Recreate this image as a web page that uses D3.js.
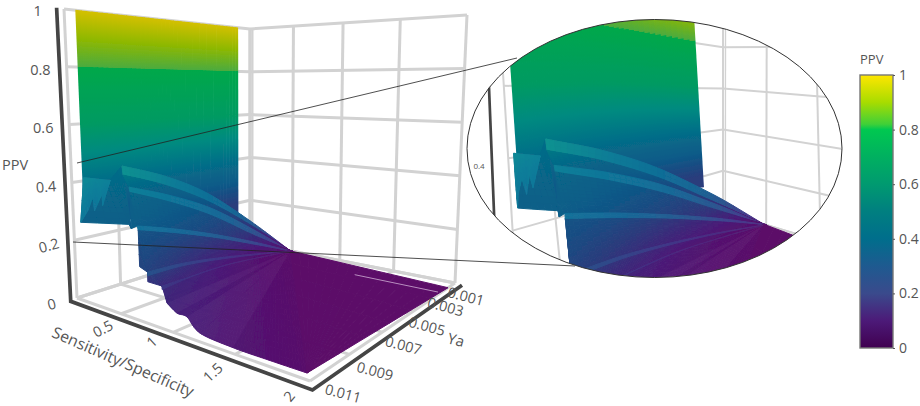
<!DOCTYPE html><html><head><meta charset="utf-8"><script src="https://cdn.jsdelivr.net/npm/d3@7"></script>
<style>html,body{margin:0;background:#fff}svg{display:block}text{font-family:"Open Sans",sans-serif;fill:#555}</style></head><body><svg id="c" width="920" height="406"></svg>
<script>
// ---- axis ticks ----
const sTicks=[0.5,1,1.5,2];
const yaTicks=[0.001,0.003,0.005,0.007,0.009,0.011];
const ppvTicks=[0,0.2,0.4,0.6,0.8,1];
// ---- surface: rows of [Sensitivity/Specificity, Ya, PPV], with the colour value read along each row ----
const sheetTop=[[0.02,0.01063,1],[0.02,0.0020,1]];
const sheetBottom=[[0.02,0.01063,0.26],[0.02,0.0020,0.15]];
const ridgeBTop=[[.189,.00952,.450],[.000,.00644,.369],[.004,.00402,.271],[.180,.00211,.133],[.479,.00100,.000]];
const ridgeBLow=[[.199,.00952,.418],[.010,.00658,.337],[.042,.00418,.240],[.247,.00245,.123],[.479,.00100,.000]];
const ridgeCTop=[[.192,.00924,.371],[.025,.00640,.295],[.054,.00407,.211],[.224,.00223,.102],[.479,.00100,.000]];
const ridgeCLow=[[.204,.00924,.353],[.033,.00641,.268],[.056,.00406,.179],[.217,.00219,.076],[.479,.00100,.000]];
const ridgeDTop=[[.222,.00903,.231],[.105,.00647,.167],[.125,.00420,.106],[.258,.00230,.048],[.479,.00100,.000]];
const ridgeDLow=[[.244,.00908,.220],[.124,.00653,.155],[.134,.00423,.095],[.263,.00231,.039],[.479,.00100,.000]];
const ridgeE=[[.417,.00943,.091],[.247,.00680,.051],[.236,.00453,.024],[.331,.00256,.007],[.505,.00100,.002]];
const ridgeF=[[.395,.00865,.022],[.297,.00642,.000],[.311,.00445,.000],[.393,.00266,.000],[.492,.00100,.000]];
const nearEdge=[[.887,.0107,.067],[.975,.0107,.046],[1.063,.0107,.044],[1.172,.0107,.009],[1.434,.0107,.000],[1.701,.0107,.000],[1.942,.0107,.001]];
const farEdge=[[.479,.00100,.000],[2,.0017,.000]];
const patchTop=[[.144,.01100,.423],[.055,.00956,.393]];
const patchJag=[[.000,.01070,.257],[.168,.01096,.313],[.162,.01072,.355],[.089,.01041,.298],[.179,.01039,.362],[.110,.01013,.314],[.055,.00956,.393]];
const blockBottom=[[.000,.01070,.257],[.144,.00907,.232],[.214,.00928,.225]];
const stepC=[.214,.00928,.225], stepD=[.245,.00906,.087], stepE=[.417,.00943,.058];
const shadeBTop=[.50,.42,.33,.24,.03], shadeBLow=[.44,.36,.29,.19,.03], shadeCTop=[.42,.36,.30,.20,.03], shadeCLow=[.37,.32,.26,.17,.03];
const shadeDTop=[.33,.29,.24,.15,.03], shadeDLow=[.28,.25,.19,.11,.03], shadeE=[.22,.17,.12,.07,.02], shadeF=[.14,.12,.08,.04,.01];
const shadeNear=[.13,.11,.10,.09,.06,.04,.02];
// ---- colour ramps ----
const barStops=[0,.1,.2,.3,.4,.5,.6,.7,.8,.82,.9,1];
const barColors=['#400050','#4c1a78','#3a4a8c','#1e5a90','#006e8c','#007f80','#009a70','#00b060','#00c850','#40d038','#a8dc00','#ffe600'];
const surfStops=[0,.1,.2,.3,.4,.5,.6,.8,.802,.9,1];
const surfColors=['#5c0a68','#481c78','#2a3c7c','#0b5a88','#056e88','#038a80','#009a62','#00a84a','#4cab3e','#8fb800','#d4c000'];

const sScale=d3.scaleLinear([0,2],[0,1]), yaScale=d3.scaleLinear([0.011,0.001],[0,1]), ppvScale=d3.scaleLinear([0,1],[0,1]);
const surfaceColor=d3.scaleLinear(surfStops,surfColors), barColor=d3.scaleLinear(barStops,barColors);
function homog(q){const [p0,p1,p2,p3]=q;const dx1=p1[0]-p2[0],dx2=p3[0]-p2[0],sx=p0[0]-p1[0]+p2[0]-p3[0],dy1=p1[1]-p2[1],dy2=p3[1]-p2[1],sy=p0[1]-p1[1]+p2[1]-p3[1];
const den=dx1*dy2-dx2*dy1,g=(sx*dy2-dx2*sy)/den,h=(dx1*sy-sx*dy1)/den,a=p1[0]-p0[0]+g*p1[0],b=p3[0]-p0[0]+h*p3[0],c=p0[0],d=p1[1]-p0[1]+g*p1[1],e=p3[1]-p0[1]+h*p3[1],f=p0[1];
return (u,v)=>{const w=g*u+h*v+1;return [(a*u+b*v+c)/w,(d*u+e*v+f)/w]}}
function view(fl,tp){const F=homog(fl),T=homog(tp);return (u,v,z)=>{const a=F(u,v),b=T(u,v);return [a[0]+(b[0]-a[0])*z,a[1]+(b[1]-a[1])*z]}}
const mainCam=view([[77,298],[310,381],[455,283],[250,243]],[[64,9],[320,-25],[467,15],[250,29]]);
const insetCam=view([[517,303],[662,478],[987,291],[723,212]],[[495,-59],[594,-82],[928,-15],[723,6]]);
const data3=(cam,p)=>cam(sScale(p[0]),yaScale(p[1]),ppvScale(p[2]));

const svg=d3.select('#c'), line=d3.line();
const ELL={cx:654.5,cy:148.5,rx:187.5,ry:129};
const defs=svg.append('defs');
defs.append('clipPath').attr('id','el').append('ellipse').attr('cx',ELL.cx).attr('cy',ELL.cy).attr('rx',ELL.rx).attr('ry',ELL.ry);
defs.append('filter').attr('id','soft').attr('x','-5%').attr('y','-5%').attr('width','110%').attr('height','110%').append('feGaussianBlur').attr('stdDeviation',.6);

function frame(g,P,w,darkV){
 const L=(pts,c,wd)=>g.append('path').attr('d',line(pts)).attr('fill','none').attr('stroke',c).attr('stroke-width',wd);
 const gc='#d2d2d2';
 [0,...sTicks].forEach(s=>{const u=sScale(s);L([P(u,1,0),P(u,1,1)],gc,w);L([P(u,0,0),P(u,1,0)],gc,w)});
 yaTicks.forEach(y=>{const v=yaScale(y);L([P(0,v,0),P(0,v,1)],gc,w);L([P(0,v,0),P(1,v,0)],gc,w)});
 ppvTicks.forEach(z=>{L([P(0,0,z),P(0,1,z)],gc,w);L([P(0,1,z),P(1,1,z)],gc,w)});
 L([P(.015,1,0),P(.015,1,1)],gc,w*.7);
 L([P(.012,darkV,1),P(.012,darkV,0),P(1.03,darkV,0),P(1.03,.99,0)],'#444',w+.7);
}
function sampler(pts,shade,smooth){
 const n=pts.length-1, rows=pts.map((p,i)=>[...p,shade?shade[i]:p[2]]);
 return t=>{const f=Math.min(t*n,n-1e-9),i=Math.floor(f),k=f-i;
  const p1=rows[i],p2=rows[i+1],p0=rows[Math.max(i-1,0)],p3=rows[Math.min(i+2,n)];
  return p1.map((_,d)=>smooth?(.5*(2*p1[d]+(p2[d]-p0[d])*k+(2*p0[d]-5*p1[d]+4*p2[d]-p3[d])*k*k+(3*p1[d]-p0[d]-3*p2[d]+p3[d])*k*k*k)):p1[d]+(p2[d]-p1[d])*k)}
}
function strip(g,P,a,b,o={}){
 const nu=o.nu||36,nv=o.nv||10;
 for(let i=0;i<nu;i++)for(let j=0;j<nv;j++){
  const cell=(ti,tj)=>{const A=a(ti),B=b(ti);return A.map((v,d)=>v+(B[d]-v)*tj)};
  const c=[cell(i/nu,j/nv),cell((i+1)/nu,j/nv),cell((i+1)/nu,(j+1)/nv),cell(i/nu,(j+1)/nv)];
  let col=surfaceColor(d3.mean(c,q=>q[3]));
  if(o.lit)col=d3.interpolateRgb(col,'#38b4dc')(o.lit);
  g.append('path').attr('d',line(c.map(q=>data3(P,q)))+'Z').attr('fill',col).attr('stroke',col).attr('stroke-width',1);
 }
}
let gid=0;
function sheet(g,P){
 const top=sampler(sheetTop),bot=sampler(sheetBottom),n=40;
 for(let i=0;i<n;i++){
  const e=Math.min(1,(i+1.2)/n),a=top(i/n),b=top(e),c=bot(e),d=bot(i/n);
  const mt=top((i+.5)/n),mb=bot((i+.5)/n),pt=data3(P,mt),pb=data3(P,mb),id='sh'+(gid++);
  const lg=defs.append('linearGradient').attr('id',id).attr('gradientUnits','userSpaceOnUse').attr('x1',pt[0]).attr('y1',pt[1]).attr('x2',pb[0]).attr('y2',pb[1]);
  surfStops.slice().reverse().forEach(s=>{const off=(mt[2]-s)/(mt[2]-mb[2]);if(off>=0&&off<=1)lg.append('stop').attr('offset',off).attr('stop-color',surfaceColor(s))});
  g.append('path').attr('d',line([a,b,c,d].map(p=>data3(P,p)))+'Z').attr('fill',`url(#${id})`);
 }
}
function drawSurface(g,P){
 const S=sampler;
 sheet(g,P);
 // block behind the left steps and its jagged lighter patch
 strip(g,P,S([patchTop[0],patchTop[1],ridgeBTop[0]],[.37,.38,.40]),S(blockBottom,[.33,.32,.31]),{nu:12,nv:8});
 strip(g,P,S(patchTop,[.46,.42]),S(patchJag,[.38,.36,.40,.34,.41,.36,.42]),{nu:24,nv:6,lit:.22});
 // bands of the fan, back to front
 strip(g,P,S(ridgeBTop,shadeBTop,1),S(ridgeBLow,shadeBTop,1),{lit:.18,nv:2});
 strip(g,P,S(ridgeBLow,shadeBLow,1),S(ridgeCTop,shadeCTop.map(d=>d-.04),1),{nv:6});
 strip(g,P,S([ridgeCLow[0],stepC],[.34,.31]),S([ridgeDTop[0],ridgeDTop[0]],[.32,.32]),{nu:3,nv:1});
 strip(g,P,S(ridgeCTop,shadeCTop,1),S(ridgeCLow,shadeCTop,1),{lit:.2,nv:2});
 strip(g,P,S(ridgeCLow,shadeCLow,1),S(ridgeDTop,shadeDTop.map(d=>d-.02),1),{nv:10});
 strip(g,P,S([ridgeDLow[0],stepD],[.28,.22]),S([ridgeE[0],ridgeE[0]],[.22,.22]),{nu:3,nv:1});
 strip(g,P,S(ridgeDLow,shadeDLow,1),S(ridgeE,shadeE,1),{nv:14});
 strip(g,P,S(ridgeDTop,shadeDTop,1),S(ridgeDLow,shadeDTop,1),{lit:.2,nv:2});
 strip(g,P,S([ridgeE[0],stepE],[.22,.18]),S([ridgeF[0],ridgeF[0]],[.16,.16]),{nu:3,nv:1});
 strip(g,P,S(ridgeE,shadeE,1),S(ridgeF,shadeF,1),{nv:12});
 strip(g,P,S(ridgeF,shadeF,1),S(nearEdge,shadeNear,1),{nu:70,nv:24});
 const low=r=>r.map((p,i)=>[p[0],p[1],Math.max(0,p[2]-.012*(1-i/(r.length-1)))]);
 strip(g,P,S(ridgeE,shadeE,1),S(low(ridgeE),shadeE,1),{lit:.14,nv:1});
 strip(g,P,S(ridgeF,shadeF,1),S(low(ridgeF),shadeF,1),{lit:.1,nv:1});
 // flat part
 strip(g,P,S(farEdge,[.0,.0]),S([nearEdge[6],nearEdge[6]],[.01,.0]),{nu:14,nv:6});
 const ray=(i,j)=>g.append('path').attr('d',line([farEdge[0],nearEdge[i],nearEdge[j]].map(p=>data3(P,p)))+'Z').attr('fill','#fff').attr('opacity',.035);
 ray(0,1);ray(2,3);ray(3,4);
 g.append('path').attr('d',line([[1.3,.0024,0],[1.98,.0024,0]].map(p=>data3(P,p)))).attr('stroke','#e4cfe8').attr('stroke-width',.9).attr('opacity',.75).attr('fill','none');
}
// main view
const gMain=svg.append('g').attr('filter','url(#soft)');
frame(gMain,mainCam,3,-.035);
drawSurface(gMain,mainCam);
// leader lines
const leader=[[[77,163],[517,58]],[[73,242],[575,266]]];
leader.forEach(l=>svg.append('path').attr('d',line(l)).attr('stroke','#222').attr('stroke-width',.8).attr('fill','none'));
// inset
svg.append('ellipse').attr('cx',ELL.cx).attr('cy',ELL.cy).attr('rx',ELL.rx).attr('ry',ELL.ry).attr('fill','#fff');
const gIn=svg.append('g').attr('clip-path','url(#el)').append('g').attr('filter','url(#soft)');
frame(gIn,insetCam,2,-.085);
drawSurface(gIn,insetCam);
svg.append('ellipse').attr('cx',ELL.cx).attr('cy',ELL.cy).attr('rx',ELL.rx).attr('ry',ELL.ry).attr('fill','none').attr('stroke','#333').attr('stroke-width',1);
{const p=insetCam(.012,-.085,.4);svg.append('text').attr('x',p[0]-13).attr('y',p[1]+6).attr('text-anchor','middle').attr('font-size',8).text(0.4);}
// tick labels
const lab=(t,x,y,rot,fs)=>svg.append('text').attr('transform',`translate(${x},${y}) rotate(${rot})`).attr('text-anchor','middle').attr('dy','.35em').attr('font-size',fs).text(t);
const zRot=[-15,-15,-4,0,0,0];
ppvTicks.forEach((z,i)=>{const p=mainCam(.012,-.035,z);lab(z,p[0]-19,p[1]+3,zRot[i],14.5)});
const sOff=[[-10,12],[-13,6],[-14,14],[-13,10]], sRot=[-28,-42,-42,-50];
sTicks.forEach((s,i)=>{const p=mainCam(sScale(s),-.035,0);lab(s,p[0]+sOff[i][0],p[1]+sOff[i][1],sRot[i],14.5)});
const yOff=[[3,12],[3,8],[8,11],[12,11],[16,14],[23,9]];
yaTicks.forEach((y,i)=>{const p=mainCam(1.03,yaScale(y),0);lab(y,p[0]+yOff[i][0],p[1]+yOff[i][1],15,14.5)});
lab('PPV',15,165,0,14.5);
lab('Sensitivity/Specificity',123,362,23.5,15.8);
lab('Ya',456,340,15,15);
// colour bar
const barY=d3.scaleLinear([0,1],[348,75]);
const grad=defs.append('linearGradient').attr('id','bar').attr('x1',0).attr('x2',0).attr('y1',1).attr('y2',0);
barStops.forEach((s,i)=>grad.append('stop').attr('offset',s).attr('stop-color',barColors[i]));
svg.append('rect').attr('x',860).attr('y',barY(1)).attr('width',33).attr('height',barY(0)-barY(1)).attr('fill','url(#bar)').attr('stroke','#777').attr('stroke-width',1.4);
const ax=svg.append('g').attr('transform','translate(893,0)').call(d3.axisRight(barY).tickValues(ppvTicks).tickSize(2).tickPadding(4).tickFormat(d=>d));
ax.select('.domain').remove();ax.selectAll('line').attr('stroke','#555');ax.selectAll('text').attr('font-size',14).attr('font-family','"Open Sans",sans-serif').attr('fill','#555');
svg.append('text').attr('x',860).attr('y',64).attr('font-size',13).text('PPV');
</script></body></html>
